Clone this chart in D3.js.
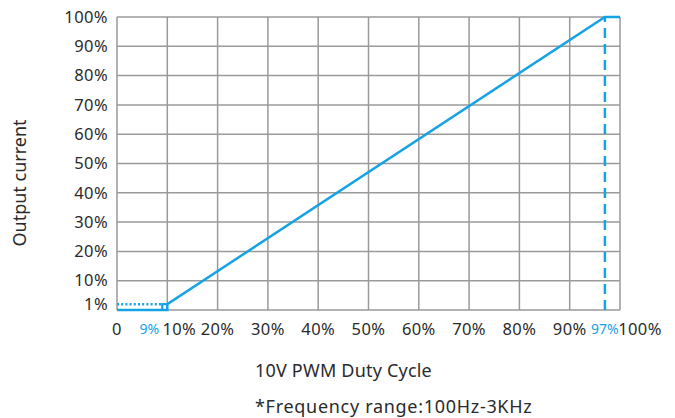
<!DOCTYPE html>
<html>
<head>
<meta charset="utf-8">
<script src="https://cdn.jsdelivr.net/npm/d3@7/dist/d3.min.js"></script>
<style>
  html, body { margin: 0; padding: 0; background: #fff; }
  svg { display: block; }
  text { font-family: "Noto Sans", "Open Sans", sans-serif; fill: #2b2b2b; }
</style>
</head>
<body>
<svg id="chart" width="675" height="418"></svg>
<script>
// Output current vs. PWM duty cycle (percent)
const xTicks = [0, 10, 20, 30, 40, 50, 60, 70, 80, 90, 100];
const yTicks = [1, 10, 20, 30, 40, 50, 60, 70, 80, 90, 100];
const curveDuty = [0, 10, 10, 97, 100];      // main curve: duty cycle
const curveCurrent = [0, 0, 1, 100, 100];     // main curve: output current
const stepDuty = [9, 9, 10];                  // small step at turn-on threshold
const stepCurrent = [0, 1, 1];
const dottedDuty = [0, 9];                    // 1% hold level below threshold
const dottedCurrent = [1, 1];
const markerDuty = [9, 97];                   // highlighted duty-cycle thresholds
const xLabel = "10V PWM Duty Cycle";
const noteLabel = "*Frequency range:100Hz-3KHz";
const yLabel = "Output current";

const blue = "#16a3e4";
const grid = "#9a9a9a";

const margin = { left: 117, top: 17 };
const W = 503, H = 293;

const svg = d3.select("#chart");
const g = svg.append("g").attr("transform", `translate(${margin.left},${margin.top})`);

const x = d3.scaleLinear().domain([0, 100]).range([0, W]);
// the 1% level is drawn slightly expanded so it stays readable near the axis
const y = d3.scaleLinear().domain([0, 1, 10, 100]).range([H, H * 0.98, H * 0.9, 0]);

// grid
g.selectAll(".vgrid").data(xTicks).join("line")
  .attr("x1", d => x(d)).attr("x2", d => x(d))
  .attr("y1", 0).attr("y2", H)
  .attr("stroke", grid).attr("stroke-width", 1.5);
g.selectAll(".hgrid").data(yTicks.filter(d => d >= 10)).join("line")
  .attr("x1", 0).attr("x2", W)
  .attr("y1", d => y(d)).attr("y2", d => y(d))
  .attr("stroke", grid).attr("stroke-width", 1.5);
g.append("line").attr("x1", 0).attr("x2", W).attr("y1", H).attr("y2", H)
  .attr("stroke", grid).attr("stroke-width", 1.5);

// y tick labels
g.selectAll(".ylab").data(yTicks).join("text")
  .attr("x", -9).attr("y", d => y(d)).attr("dy", "0.35em")
  .attr("text-anchor", "end").attr("font-size", 16.5)
  .attr("letter-spacing", 0.4)
  .text(d => d + "%");

// x tick labels
const xShift = { 10: 12, 100: 20 };
g.selectAll(".xlab").data(xTicks).join("text")
  .attr("x", d => x(d) + (xShift[d] || 0)).attr("y", H + 19).attr("dy", "0.35em")
  .attr("text-anchor", "middle").attr("font-size", 16.5)
  .attr("letter-spacing", 0.4)
  .text(d => d === 0 ? "0" : d + "%");

// threshold labels in blue
g.selectAll(".mlab").data(markerDuty).join("text")
  .attr("x", d => d === 9 ? x(d) - 3 : x(d))
  .attr("y", H + 19).attr("dy", "0.35em")
  .attr("text-anchor", d => d === 9 ? "end" : "middle")
  .attr("font-size", 14)
  .style("fill", blue)
  .text(d => d + "%");

const line = d3.line().x(d => x(d[0])).y(d => y(d[1]));

// 97% dashed marker
g.append("path")
  .attr("d", line([[97, 0], [97, 100]]))
  .attr("fill", "none").attr("stroke", blue).attr("stroke-width", 2.5)
  .attr("stroke-dasharray", "10,6");

// dotted hold level
g.append("path")
  .attr("d", line(d3.zip(dottedDuty, dottedCurrent)))
  .attr("fill", "none").attr("stroke", blue).attr("stroke-width", 2.5)
  .attr("stroke-dasharray", "2,2.2");

// step at the threshold
g.append("path")
  .attr("d", line(d3.zip(stepDuty, stepCurrent)))
  .attr("fill", "none").attr("stroke", blue).attr("stroke-width", 2.2);

// main curve
g.append("path")
  .attr("d", line(d3.zip(curveDuty, curveCurrent)))
  .attr("fill", "none").attr("stroke", blue).attr("stroke-width", 2.5)
  .attr("stroke-linejoin", "miter");

// axis titles
svg.append("text")
  .attr("transform", "translate(20,183) rotate(-90)")
  .attr("text-anchor", "middle").attr("dy", "0.35em")
  .attr("font-size", 18)
  .text(yLabel);

svg.append("text")
  .attr("x", 255).attr("y", 377)
  .attr("font-size", 18)
  .attr("letter-spacing", 0.2)
  .text(xLabel);

svg.append("text")
  .attr("x", 255).attr("y", 413)
  .attr("font-size", 18)
  .attr("letter-spacing", 0.7)
  .text(noteLabel);
</script>
</body>
</html>
